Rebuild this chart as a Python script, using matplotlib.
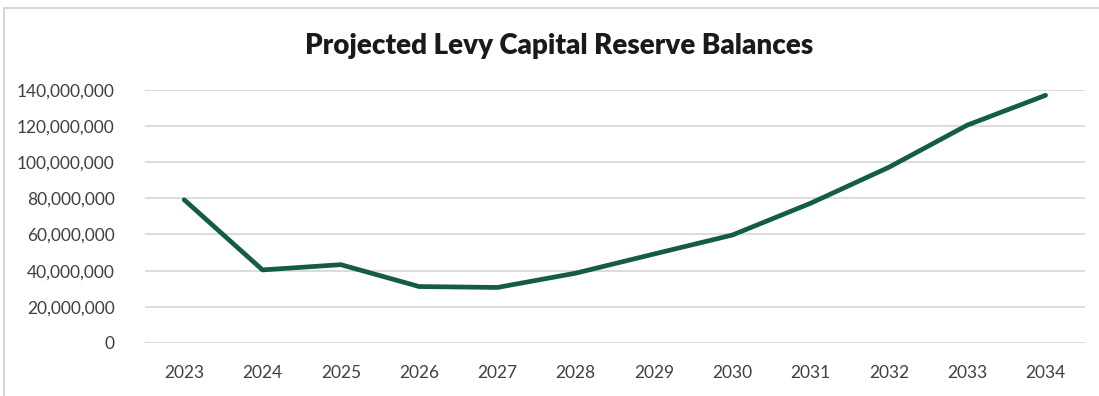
import matplotlib
matplotlib.use("Agg")
import matplotlib.pyplot as plt
from matplotlib.patches import Rectangle
from matplotlib.ticker import FuncFormatter, MultipleLocator

years = ['2023', '2024', '2025', '2026', '2027', '2028',
         '2029', '2030', '2031', '2032', '2033', '2034']
balances = [79.2e6, 40.4e6, 43.3e6, 31.2e6, 30.7e6, 38.6e6,
            49.2e6, 59.7e6, 77.3e6, 97.2e6, 120.5e6, 137.0e6]

plt.rcParams['font.family'] = ['Lato', 'DejaVu Sans']

fig = plt.figure(figsize=(10.99, 3.96), dpi=100)
ax = fig.add_axes([0.132, 0.134, 0.855, 0.639])

x = list(range(len(years)))
ax.plot(x, balances, color='#145c45', linewidth=3.4, solid_capstyle='round',
        solid_joinstyle='round', zorder=3)

ax.set_xlim(-0.5, len(years) - 0.5)
ax.set_ylim(0, 140e6)
ax.yaxis.set_major_locator(MultipleLocator(20e6))
ax.yaxis.set_major_formatter(FuncFormatter(lambda v, p: f'{int(v):,}'))
ax.set_xticks(x)
ax.set_xticklabels(years)

ax.grid(axis='y', color='#d9d9d9', linewidth=1.3, zorder=0)
for s in ax.spines.values():
    s.set_visible(False)
ax.tick_params(axis='both', length=0, labelsize=12.5, labelcolor='#404040')
ax.tick_params(axis='y', pad=22)
ax.tick_params(axis='x', pad=16)

fig.text(0.509, 0.885, 'Projected Levy Capital Reserve Balances', ha='center',
         va='center', fontsize=20, fontweight='heavy', color='#1a1a1a')

# light frame round the chart
fig.patches.append(Rectangle((0.004, -0.02), 1.1, 1.0, transform=fig.transFigure,
                             fill=False, edgecolor='#d0d0d0', linewidth=1.2))

fig.savefig('out.png', dpi=100)
